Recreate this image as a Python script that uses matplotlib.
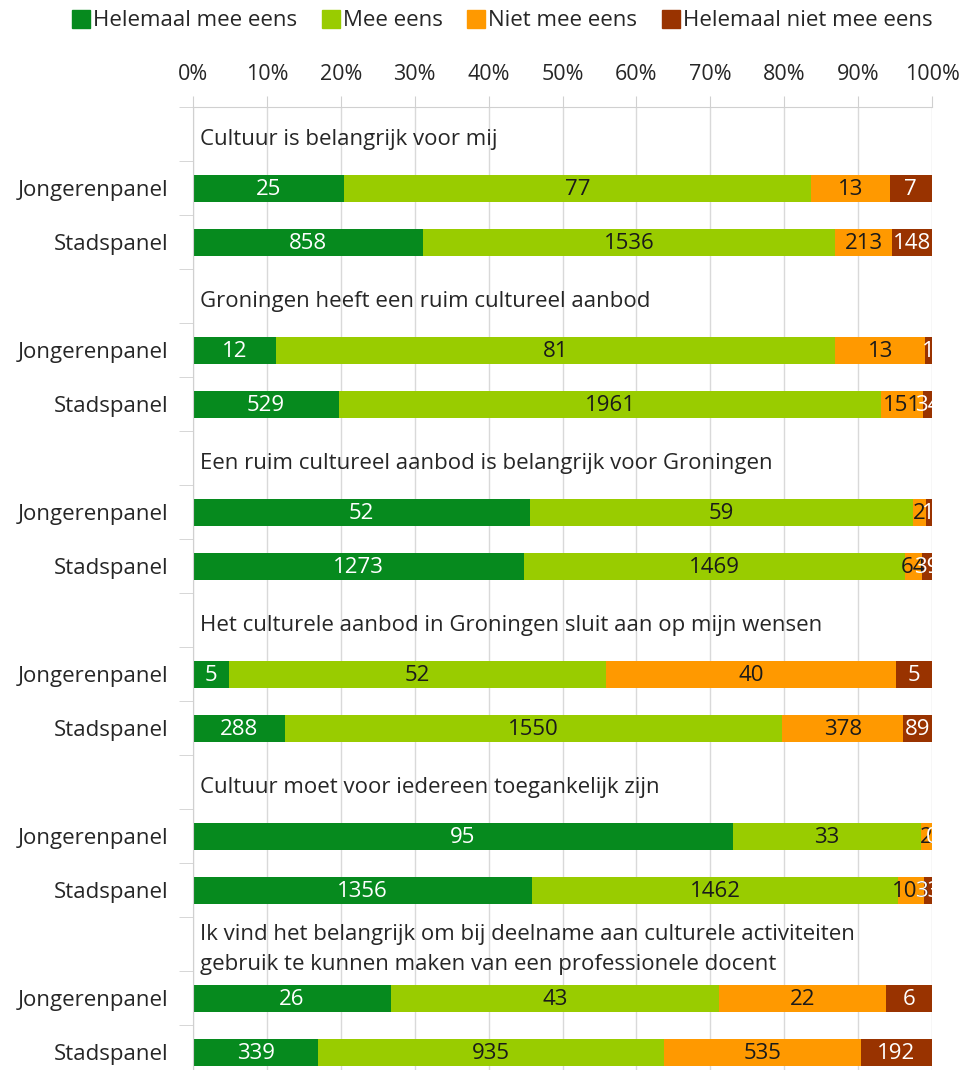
import numpy as np
import matplotlib.pyplot as plt
from matplotlib.lines import Line2D

plt.rcParams['font.family'] = ['Open Sans', 'DejaVu Sans']

# stellingen (titels boven elk blok)
stellingen = [
    'Cultuur is belangrijk voor mij',
    'Groningen heeft een ruim cultureel aanbod',
    'Een ruim cultureel aanbod is belangrijk voor Groningen',
    'Het culturele aanbod in Groningen sluit aan op mijn wensen',
    'Cultuur moet voor iedereen toegankelijk zijn',
    'Ik vind het belangrijk om bij deelname aan culturele activiteiten\ngebruik te kunnen maken van een professionele docent',
]
panels = ['Jongerenpanel', 'Stadspanel'] * 6

# aantallen per antwoord (Jongerenpanel, Stadspanel per stelling)
helemaal_eens = [25, 858, 12, 529, 52, 1273, 5, 288, 95, 1356, 26, 339]
mee_eens = [77, 1536, 81, 1961, 59, 1469, 52, 1550, 33, 1462, 43, 935]
niet_eens = [13, 213, 13, 151, 2, 64, 40, 378, 2, 103, 22, 535]
helemaal_niet = [7, 148, 1, 34, 1, 39, 5, 89, 0, 33, 6, 192]

series = [helemaal_eens, mee_eens, niet_eens, helemaal_niet]
namen = ['Helemaal mee eens', 'Mee eens', 'Niet mee eens', 'Helemaal niet mee eens']
kleuren = ['#068A1E', '#99CC00', '#FF9900', '#993300']
tekstkleur = ['white', '#1a1a1a', '#1a1a1a', 'white']

counts = np.array(series, dtype=float)
perc = counts / counts.sum(axis=0) * 100

# rijen: titel, jongeren, stad per blok
rijen = []
for k in range(6):
    rijen += [3 * k + 1, 3 * k + 2]
rijen = np.array(rijen)

fig = plt.figure(figsize=(9.64, 10.70), dpi=100)
ax = fig.add_axes([193 / 964, 0, (932 - 193) / 964, 1 - 107 / 1070])

links = np.zeros(len(rijen))
for i in range(4):
    ax.barh(rijen, perc[i], left=links, height=0.5, color=kleuren[i], zorder=2)
    for r, l, w, c in zip(rijen, links, perc[i], counts[i]):
        ax.text(l + w / 2, r + 0.03, f'{int(c)}', ha='center', va='center',
                fontsize=16, color=tekstkleur[i], zorder=3)
    links = links + perc[i]

for k, t in enumerate(stellingen):
    ax.text(1, 3 * k + 0.1, t, ha='left', va='center', fontsize=16,
            color='#262626', linespacing=1.55, zorder=3)

ax.set_xlim(0, 100)
ax.set_ylim(17.33, -0.5)
ax.xaxis.tick_top()
ax.set_xticks(np.arange(0, 101, 10))
ax.set_xticklabels([f'{v}%' for v in range(0, 101, 10)])
ax.tick_params(axis='x', length=8, color='#d0d0d0', labelsize=15.5, labelcolor='#262626', pad=8)
ax.grid(axis='x', color='#d9d9d9', linewidth=1, zorder=0)

ax.set_yticks(rijen)
ax.set_yticklabels(panels)
ax.set_yticks(np.arange(-0.5, 17.5, 1), minor=True)
ax.tick_params(axis='y', which='major', length=0, labelsize=16, labelcolor='#262626', pad=18)
ax.tick_params(axis='y', which='minor', length=10, color='#d0d0d0')

for s in ['right', 'bottom']:
    ax.spines[s].set_visible(False)
ax.spines['top'].set_color('#d0d0d0')
ax.spines['left'].set_color('#d0d0d0')

handles = [Line2D([], [], marker='s', linestyle='', markersize=13, color=c) for c in kleuren]
fig.legend(handles, namen, loc='center', bbox_to_anchor=(0.52, 1 - 21 / 1070), ncol=4,
           frameon=False, fontsize=16, handletextpad=0.05, columnspacing=1.0, handlelength=1.0,
           labelcolor='#262626')

fig.savefig('out.png', dpi=100)
